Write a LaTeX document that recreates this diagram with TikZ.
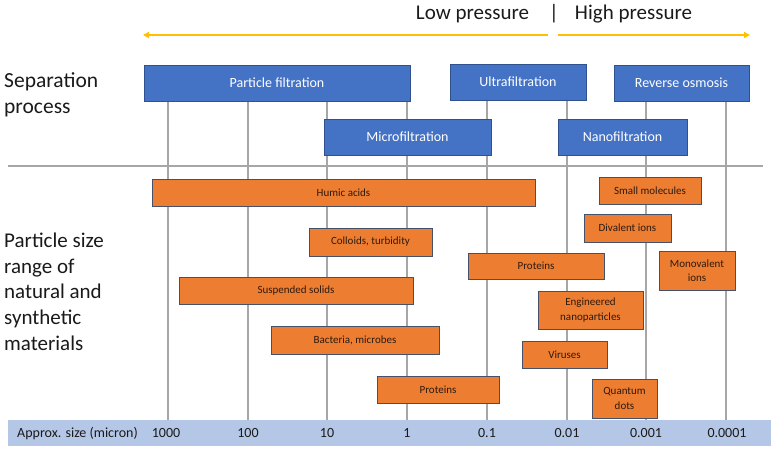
\documentclass[tikz,border=0pt]{standalone}
\usepackage{fontspec}
\setmainfont{Carlito}
\usetikzlibrary{arrows.meta}
\definecolor{bluebox}{HTML}{4472C4}
\definecolor{blueedge}{HTML}{2F528F}
\definecolor{orangebox}{HTML}{ED7D31}
\definecolor{orangeedge}{HTML}{45506A}
\definecolor{orangetext}{HTML}{2E1A0E}
\definecolor{gridgray}{HTML}{A6A6A6}
\definecolor{arrowyellow}{HTML}{FFC000}
\definecolor{axisbar}{HTML}{B4C7E7}
\definecolor{darktext}{HTML}{1A1A1A}
\tikzset{
  procbox/.style={draw=blueedge, line width=0.8pt, fill=bluebox, text=white, inner sep=0pt,
    font=\fontsize{14}{16}\selectfont},
  matbox/.style={draw=orangeedge, line width=0.8pt, fill=orangebox, text=orangetext, inner sep=0pt,
    align=center, font=\fontsize{11}{14.5}\selectfont},
  gridline/.style={draw=gridgray, line width=1.5pt},
  presarrow/.style={draw=arrowyellow, line width=1.5pt, -{Triangle[length=6pt,width=6pt]}},
  ticklabel/.style={text=darktext, inner sep=0pt, font=\fontsize{14}{16}\selectfont},
  sidelabel/.style={text=darktext, inner sep=0pt, anchor=west, align=left},
}
\begin{document}
\begin{tikzpicture}[x=1pt,y=-1pt]
\useasboundingbox (0,0) rectangle (775,451);
% axis bar
\fill[axisbar] (8,420) rectangle (771,446);
% horizontal separator
\draw[gridline] (8,166) -- (763,166);
% vertical grid lines
\foreach \gx in {168,248,327,407,487,567,646,726}
  \draw[gridline] (\gx,101) -- (\gx,420);
% pressure arrows
\coordinate (lowstart) at (548,35);
\coordinate (lowend) at (143,35);
\coordinate (highstart) at (558,35);
\coordinate (highend) at (750,35);
\draw[presarrow] (lowstart) -- (lowend);
\draw[presarrow] (highstart) -- (highend);
\node[text=darktext, inner sep=0pt, font=\fontsize{21}{24}\selectfont] (low) at (472.5,14) {Low pressure};
\node[text=darktext, inner sep=0pt, font=\fontsize{21}{24}\selectfont] (bar) at (554,14) {|};
\node[text=darktext, inner sep=0pt, font=\fontsize{21}{24}\selectfont] (high) at (633.5,14) {High pressure};
% side labels
\node[sidelabel, font=\fontsize{21.5}{26}\selectfont] (seplabel) at (4,95) {Separation\\process};
\node[sidelabel, font=\fontsize{21}{25.7}\selectfont] (matlabel) at (4,291.5) {Particle size\\range of\\natural and\\synthetic\\materials};
% separation processes
\node[procbox, minimum width=266pt, minimum height=36pt] (pf) at (277,83) {Particle filtration};
\node[procbox, minimum width=136pt, minimum height=36pt] (uf) at (518,82) {Ultrafiltration};
\node[procbox, minimum width=135pt, minimum height=36pt] (ro) at (681.5,83) {Reverse osmosis};
\node[procbox, minimum width=167pt, minimum height=36pt] (mf) at (407.5,137) {Microfiltration};
\node[procbox, minimum width=129pt, minimum height=36pt] (nf) at (622.5,137) {Nanofiltration};
% materials
\node[matbox, minimum width=383pt, minimum height=27pt] (humic) at (343.5,192.5) {Humic acids};
\node[matbox, minimum width=123pt, minimum height=28pt] (colloids) at (370.5,242) {Colloids, turbidity};
\node[matbox, minimum width=136pt, minimum height=26pt] (proteinsa) at (536,266) {Proteins};
\node[matbox, minimum width=234pt, minimum height=27pt] (suspended) at (296,290.5) {Suspended solids};
\node[matbox, minimum width=102pt, minimum height=27pt] (smallmol) at (650,190.5) {Small molecules};
\node[matbox, minimum width=87pt, minimum height=28pt] (divalent) at (627.5,228) {Divalent ions};
\node[matbox, minimum width=76pt, minimum height=39pt] (monovalent) at (697,270.5) {Monovalent\\ions};
\node[matbox, minimum width=105pt, minimum height=38pt] (engineered) at (590.5,310) {Engineered\\nanoparticles};
\node[matbox, minimum width=168pt, minimum height=28pt] (bacteria) at (355,340) {Bacteria, microbes};
\node[matbox, minimum width=85pt, minimum height=27pt] (viruses) at (564.5,354.5) {Viruses};
\node[matbox, minimum width=122pt, minimum height=27pt] (proteinsb) at (438,389.5) {Proteins};
\node[matbox, minimum width=65pt, minimum height=39pt] (quantum) at (624.5,398.5) {Quantum\\dots};
% axis labels
\node[ticklabel, anchor=west] (axislabel) at (17,433) {Approx. size (micron)};
\node[ticklabel] (t1000) at (166,433) {1000};
\node[ticklabel] (t100) at (248,433) {100};
\node[ticklabel] (t10) at (327,433) {10};
\node[ticklabel] (t1) at (407,433) {1};
\node[ticklabel] (t01) at (487,433) {0.1};
\node[ticklabel] (t001) at (567,433) {0.01};
\node[ticklabel] (t0001) at (646,433) {0.001};
\node[ticklabel] (t00001) at (727,433) {0.0001};
\end{tikzpicture}
\end{document}
